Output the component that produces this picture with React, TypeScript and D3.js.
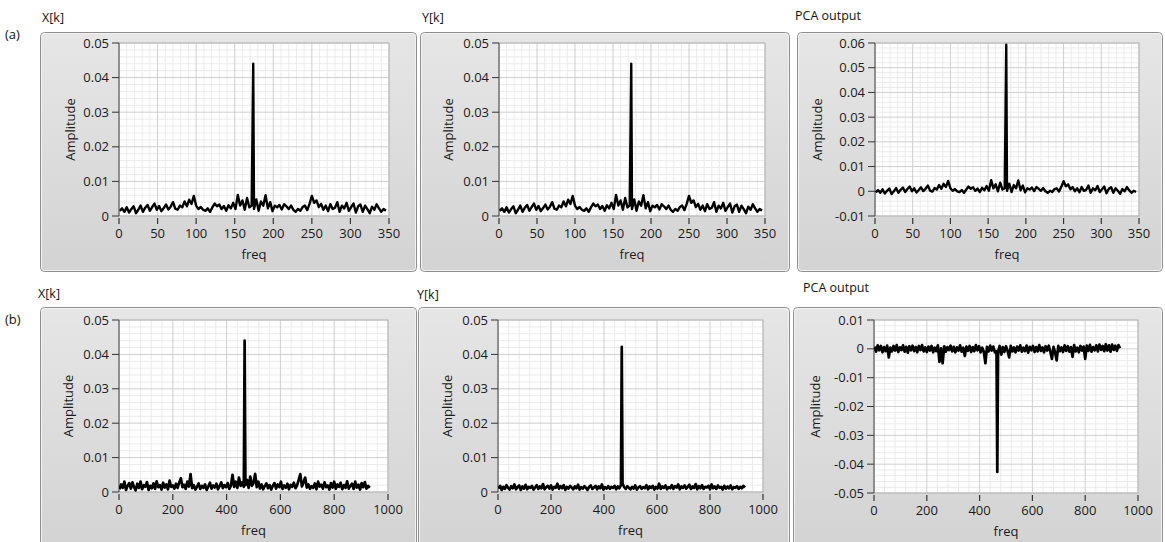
import React from 'react';
import * as d3 from 'd3';

// ---------------- DATA ----------------
// Top row (a): samples at freq = 1 + 3*i
const TOP_FREQ_START = 1;
const TOP_FREQ_STEP = 3;
// Bottom row (b): samples at freq = 2 + 6*i
const BOTTOM_FREQ_START = 2;
const BOTTOM_FREQ_STEP = 6;

const TOP_X_TICKS = [0, 50, 100, 150, 200, 250, 300, 350];
const BOTTOM_X_TICKS = [0, 200, 400, 600, 800, 1000];
const Y_TICKS_POS = [0, 0.01, 0.02, 0.03, 0.04, 0.05];
const Y_TICKS_PCA_TOP = [-0.01, 0, 0.01, 0.02, 0.03, 0.04, 0.05, 0.06];
const Y_TICKS_PCA_BOTTOM = [-0.05, -0.04, -0.03, -0.02, -0.01, 0, 0.01];

const X_TOP_NOISE = [
  0.0015, 0.0022, 0.0012, 0.0025, 0.001, 0.002, 0.0028, 0.0008, 0.0018, 0.003,
  0.0012, 0.0024, 0.0032, 0.0015, 0.0026, 0.0036, 0.0018, 0.0029, 0.0014, 0.0023,
  0.0033, 0.0019, 0.0027, 0.004, 0.0021, 0.0018, 0.003, 0.0025, 0.0042, 0.0028,
  0.0047, 0.0035, 0.0058, 0.003, 0.002, 0.0026, 0.0018, 0.0015, 0.0022, 0.0012,
  0.0025, 0.0036, 0.0028, 0.0033, 0.002, 0.0029, 0.0015, 0.0031, 0.0022, 0.0038,
  0.002, 0.0061, 0.003, 0.0045, 0.0018, 0.0052, 0.0025, 0.003, 0.002, 0.0048,
  0.0015, 0.0042, 0.003, 0.006, 0.0022, 0.004, 0.0014, 0.003, 0.0025, 0.0032,
  0.0019, 0.0034, 0.0028, 0.002, 0.003, 0.0018, 0.0012, 0.002, 0.0015, 0.0026,
  0.003, 0.0017, 0.0035, 0.0058, 0.0038, 0.0045, 0.0026, 0.0035, 0.0018, 0.003,
  0.0014, 0.0034, 0.002, 0.0024, 0.004, 0.0012, 0.003, 0.0022, 0.0038, 0.0015,
  0.0026, 0.0036, 0.001, 0.0028, 0.0033, 0.0012, 0.003, 0.002, 0.0008, 0.0027,
  0.0018, 0.0034, 0.0022, 0.0012, 0.002, 0.0015,
];
// Y[k] in (a) is visually identical to X[k]
const Y_TOP_NOISE = [
  0.0015, 0.0022, 0.0012, 0.0025, 0.001, 0.002, 0.0028, 0.0008, 0.0018, 0.003,
  0.0012, 0.0024, 0.0032, 0.0015, 0.0026, 0.0036, 0.0018, 0.0029, 0.0014, 0.0023,
  0.0033, 0.0019, 0.0027, 0.004, 0.0021, 0.0018, 0.003, 0.0025, 0.0042, 0.0028,
  0.0047, 0.0035, 0.0058, 0.003, 0.002, 0.0026, 0.0018, 0.0015, 0.0022, 0.0012,
  0.0025, 0.0036, 0.0028, 0.0033, 0.002, 0.0029, 0.0015, 0.0031, 0.0022, 0.0038,
  0.002, 0.0061, 0.003, 0.0045, 0.0018, 0.0052, 0.0025, 0.003, 0.002, 0.0048,
  0.0015, 0.0042, 0.003, 0.006, 0.0022, 0.004, 0.0014, 0.003, 0.0025, 0.0032,
  0.0019, 0.0034, 0.0028, 0.002, 0.003, 0.0018, 0.0012, 0.002, 0.0015, 0.0026,
  0.003, 0.0017, 0.0035, 0.0058, 0.0038, 0.0045, 0.0026, 0.0035, 0.0018, 0.003,
  0.0014, 0.0034, 0.002, 0.0024, 0.004, 0.0012, 0.003, 0.0022, 0.0038, 0.0015,
  0.0026, 0.0036, 0.001, 0.0028, 0.0033, 0.0012, 0.003, 0.002, 0.0008, 0.0027,
  0.0018, 0.0034, 0.0022, 0.0012, 0.002, 0.0015,
];
const PCA_TOP_NOISE = [
  -0.0004, 0.0005, -0.0006, 0.0008, -0.0009, 0.0002, 0.0011, -0.0011, 0.0, 0.0013,
  -0.0006, 0.0006, 0.0015, -0.0003, 0.0009, 0.0019, 0.0, 0.0012, -0.0005, 0.0005,
  0.0016, 0.0001, 0.001, 0.0023, 0.0003, -0.0001, 0.0013, 0.0007, 0.0025, 0.001,
  0.003, 0.0017, 0.0042, 0.0012, 0.0002, 0.0009, 0.0, -0.0003, 0.0005, -0.0006,
  0.0007, 0.0019, 0.001, 0.0016, 0.0002, 0.0011, -0.0003, 0.0014, 0.0004, 0.0021,
  0.0002, 0.0045, 0.0012, 0.0028, 0.0, 0.0035, 0.0007, 0.0012, 0.0002, 0.0031,
  -0.0003, 0.0025, 0.0012, 0.0044, 0.0004, 0.0023, -0.0004, 0.0012, 0.0007, 0.0015,
  0.0001, 0.0017, 0.001, 0.0002, 0.0013, 0.0, -0.0006, 0.0002, -0.0003, 0.0009,
  0.0012, -0.0001, 0.0018, 0.0041, 0.002, 0.0028, 0.0008, 0.0017, 0.0, 0.0012,
  -0.0004, 0.0017, 0.0002, 0.0006, 0.0023, -0.0006, 0.0012, 0.0004, 0.0021, -0.0003,
  0.0008, 0.0019, -0.0008, 0.001, 0.0016, -0.0006, 0.0012, 0.0002, -0.001, 0.0009,
  0.0, 0.0017, 0.0004, -0.0006, 0.0002, -0.0003,
];

const X_BOTTOM_NOISE = [
  0.0008, 0.0022, 0.0012, 0.003, 0.0006, 0.0018, 0.0026, 0.001, 0.0028, 0.0014, 0.0005, 0.0024,
  0.0012, 0.003, 0.0008, 0.002, 0.0015, 0.0029, 0.0006, 0.0018, 0.0011, 0.0025, 0.0009, 0.0031,
  0.0014, 0.002, 0.0007, 0.0027, 0.0013, 0.0022, 0.0008, 0.0033, 0.0015, 0.0019, 0.001, 0.0024,
  0.0012, 0.0028, 0.004, 0.0014, 0.0021, 0.0009, 0.003, 0.0016, 0.0052, 0.0011, 0.002, 0.0007,
  0.0015, 0.0025, 0.0009, 0.0018, 0.0012, 0.0022, 0.0006, 0.0016, 0.0027, 0.001, 0.0019, 0.0013,
  0.0024, 0.0008, 0.0017, 0.0028, 0.0011, 0.002, 0.0014, 0.0026, 0.0009, 0.0018, 0.005, 0.0015,
  0.003, 0.0012, 0.0042, 0.0018, 0.0028, 0.0015, 0.002, 0.0035, 0.0012, 0.0045, 0.0018, 0.0026,
  0.0053, 0.0014, 0.003, 0.001, 0.0022, 0.0008, 0.0017, 0.0025, 0.0011, 0.002, 0.0007, 0.0018,
  0.0026, 0.001, 0.0022, 0.0014, 0.003, 0.0009, 0.0019, 0.0012, 0.0024, 0.0008, 0.0021, 0.0015,
  0.0027, 0.0011, 0.0019, 0.0035, 0.0052, 0.0016, 0.0028, 0.0042, 0.0013, 0.0022, 0.0009, 0.0017,
  0.0012, 0.0025, 0.0008, 0.003, 0.0016, 0.0021, 0.001, 0.0028, 0.0014, 0.0019, 0.0007, 0.0026,
  0.0013, 0.003, 0.0009, 0.0022, 0.0015, 0.0027, 0.0008, 0.002, 0.0012, 0.0031, 0.001, 0.0018,
  0.0024, 0.0009, 0.003, 0.0013, 0.0021, 0.0007, 0.0026, 0.0014, 0.0029, 0.001, 0.0018, 0.0012,
];
const Y_BOTTOM_NOISE = [
  0.001, 0.0018, 0.0006, 0.0015, 0.0009, 0.002, 0.0012, 0.0007, 0.0017, 0.0011, 0.0022, 0.0008,
  0.0014, 0.0019, 0.0006, 0.0016, 0.001, 0.0021, 0.0008, 0.0015, 0.0012, 0.0018, 0.0007, 0.0013,
  0.002, 0.0009, 0.0016, 0.0011, 0.0023, 0.0008, 0.0014, 0.0018, 0.001, 0.0019, 0.0007, 0.0015,
  0.0012, 0.0024, 0.0009, 0.0017, 0.0011, 0.002, 0.0006, 0.0015, 0.001, 0.0018, 0.0013, 0.0008,
  0.0016, 0.0011, 0.0021, 0.0007, 0.0014, 0.001, 0.0017, 0.0012, 0.0006, 0.0015, 0.0019, 0.0009,
  0.0013, 0.0018, 0.0008, 0.0016, 0.0011, 0.0022, 0.0007, 0.0014, 0.001, 0.0017, 0.0009, 0.0015,
  0.0012, 0.0018, 0.0008, 0.0016, 0.0011, 0.002, 0.0025, 0.0014, 0.0009, 0.0017, 0.0012, 0.0008,
  0.0015, 0.001, 0.0019, 0.0007, 0.0013, 0.0017, 0.0009, 0.0014, 0.0011, 0.002, 0.0008, 0.0016,
  0.0012, 0.0018, 0.0007, 0.0015, 0.001, 0.0024, 0.0009, 0.0016, 0.0012, 0.0019, 0.0008, 0.0014,
  0.0011, 0.002, 0.0009, 0.0017, 0.0013, 0.0022, 0.0008, 0.0016, 0.0012, 0.0019, 0.001, 0.0015,
  0.0021, 0.0009, 0.0016, 0.0012, 0.0023, 0.0008, 0.0017, 0.0011, 0.002, 0.0009, 0.0015, 0.0013,
  0.0018, 0.0008, 0.0022, 0.0011, 0.0016, 0.0009, 0.0019, 0.0012, 0.0015, 0.0007, 0.0018, 0.001,
  0.0016, 0.0011, 0.0019, 0.0008, 0.0014, 0.0012, 0.0017, 0.0009, 0.0015, 0.0011, 0.0018, 0.0013,
];
const PCA_BOTTOM_NOISE = [
  0.0008, -0.001, 0.0012, -0.0005, 0.001, -0.0012, 0.0006, -0.0008, 0.0011, -0.003, 0.0004, -0.0009,
  0.001, -0.0006, 0.0013, -0.0011, 0.0005, -0.0004, 0.0012, -0.001, 0.0007, -0.0013, 0.0009, -0.0005,
  0.0011, -0.0008, 0.0006, -0.0012, 0.001, -0.0004, 0.0013, -0.0009, 0.0005, -0.0011, 0.0008, -0.0006,
  0.001, -0.0012, 0.0004, -0.0008, 0.0012, -0.0045, 0.0002, -0.005, 0.0009, -0.001, 0.0006, -0.0004,
  0.0011, -0.0009, 0.0007, -0.0012, 0.0005, -0.0006, 0.0012, -0.001, 0.0004, -0.0025, 0.0008, -0.0007,
  0.001, -0.0011, 0.0006, -0.0008, 0.0013, -0.0005, 0.0009, -0.0012, 0.0004, -0.001, -0.005, 0.0007,
  -0.0009, 0.0011, -0.0006, 0.0008, -0.0012, -0.0008, -0.001, 0.001, -0.002, 0.0006, -0.0011, 0.0009,
  -0.0007, -0.003, 0.001, -0.0009, 0.0005, -0.0012, 0.0008, -0.0006, 0.0012, -0.001, 0.0004, -0.0008,
  0.0011, -0.0013, 0.0007, -0.0005, 0.001, -0.0011, 0.0006, -0.0009, 0.0013, -0.0007, 0.0005, -0.0012,
  0.0009, -0.0006, 0.0011, -0.001, -0.0035, 0.0007, -0.0012, -0.004, 0.001, -0.0008, 0.0005, -0.0011,
  0.0012, -0.0007, 0.0009, -0.001, 0.0006, -0.0028, 0.0013, -0.0009, 0.0004, -0.0012, 0.001, -0.0006,
  0.0008, -0.0035, 0.0011, -0.0007, 0.0014, -0.001, 0.0006, -0.0005, 0.0012, -0.0009, 0.0015, -0.0004,
  0.001, -0.0008, 0.0016, -0.0006, 0.0012, -0.001, 0.0015, -0.0004, 0.0011, -0.0007, 0.0013, 0.0002,
];

// Spectral peaks [freq, amplitude]
const X_TOP_PEAK: [number, number] = [174, 0.044];
const Y_TOP_PEAK: [number, number] = [174, 0.044];
const PCA_TOP_PEAK: [number, number] = [174, 0.0593];
const X_BOTTOM_PEAK: [number, number] = [467, 0.044];
const Y_BOTTOM_PEAK: [number, number] = [467, 0.0422];
const PCA_BOTTOM_PEAK: [number, number] = [467, -0.0427];

// ---------------- helpers ----------------
function buildSeries(noise: number[], start: number, step: number, peak: [number, number]) {
  const pts: [number, number][] = noise.map((v, i) => [start + i * step, v]);
  pts.push(peak);
  pts.sort((a, b) => a[0] - b[0]);
  return pts;
}

function fmtTick(v: number) {
  if (Math.abs(v) < 1e-12) return '0';
  return v.toFixed(2);
}

function fmtX(v: number) {
  return String(v);
}

const FONT = "'Open Sans', 'Noto Sans', 'DejaVu Sans', sans-serif";

type PanelCfg = {
  title: string;
  titleX: number;
  titleY: number;
  frame: { x: number; y: number; w: number; h: number };
  plot: { x: number; y: number; w: number; h: number };
  xDomain: [number, number];
  xTicks: number[];
  yDomain: [number, number];
  yTicks: number[];
  ampOffset: number;
  lineWidth: number;
  series: [number, number][];
};

const PANELS: PanelCfg[] = [
  {
    title: 'X[k]', titleX: 42, titleY: 22,
    frame: { x: 40, y: 32, w: 377, h: 240 },
    plot: { x: 119, y: 43, w: 270, h: 173 },
    xDomain: [0, 350], xTicks: TOP_X_TICKS,
    yDomain: [0, 0.05], yTicks: Y_TICKS_POS, ampOffset: 49, lineWidth: 2.4,
    series: buildSeries(X_TOP_NOISE, TOP_FREQ_START, TOP_FREQ_STEP, X_TOP_PEAK),
  },
  {
    title: 'Y[k]', titleX: 422, titleY: 22,
    frame: { x: 420, y: 32, w: 370, h: 240 },
    plot: { x: 499, y: 43, w: 266, h: 173 },
    xDomain: [0, 350], xTicks: TOP_X_TICKS,
    yDomain: [0, 0.05], yTicks: Y_TICKS_POS, ampOffset: 51, lineWidth: 2.4,
    series: buildSeries(Y_TOP_NOISE, TOP_FREQ_START, TOP_FREQ_STEP, Y_TOP_PEAK),
  },
  {
    title: 'PCA output', titleX: 795, titleY: 20,
    frame: { x: 797, y: 32, w: 366, h: 240 },
    plot: { x: 875, y: 43, w: 264, h: 173 },
    xDomain: [0, 350], xTicks: TOP_X_TICKS,
    yDomain: [-0.01, 0.06], yTicks: Y_TICKS_PCA_TOP, ampOffset: 58, lineWidth: 2.4,
    series: buildSeries(PCA_TOP_NOISE, TOP_FREQ_START, TOP_FREQ_STEP, PCA_TOP_PEAK),
  },
  {
    title: 'X[k]', titleX: 38, titleY: 298,
    frame: { x: 40, y: 307, w: 377, h: 240 },
    plot: { x: 119, y: 320, w: 269, h: 172 },
    xDomain: [0, 1000], xTicks: BOTTOM_X_TICKS,
    yDomain: [0, 0.05], yTicks: Y_TICKS_POS, ampOffset: 51, lineWidth: 2.7,
    series: buildSeries(X_BOTTOM_NOISE, BOTTOM_FREQ_START, BOTTOM_FREQ_STEP, X_BOTTOM_PEAK),
  },
  {
    title: 'Y[k]', titleX: 417, titleY: 299,
    frame: { x: 418, y: 307, w: 372, h: 240 },
    plot: { x: 498, y: 320, w: 265, h: 172 },
    xDomain: [0, 1000], xTicks: BOTTOM_X_TICKS,
    yDomain: [0, 0.05], yTicks: Y_TICKS_POS, ampOffset: 51, lineWidth: 2.7,
    series: buildSeries(Y_BOTTOM_NOISE, BOTTOM_FREQ_START, BOTTOM_FREQ_STEP, Y_BOTTOM_PEAK),
  },
  {
    title: 'PCA output', titleX: 803, titleY: 292,
    frame: { x: 793, y: 307, w: 370, h: 240 },
    plot: { x: 874, y: 320, w: 264, h: 173 },
    xDomain: [0, 1000], xTicks: BOTTOM_X_TICKS,
    yDomain: [-0.05, 0.01], yTicks: Y_TICKS_PCA_BOTTOM, ampOffset: 59, lineWidth: 2.7,
    series: buildSeries(PCA_BOTTOM_NOISE, BOTTOM_FREQ_START, BOTTOM_FREQ_STEP, PCA_BOTTOM_PEAK),
  },
];

function minorValues(ticks: number[], parts: number) {
  const out: number[] = [];
  for (let i = 0; i < ticks.length - 1; i++) {
    const a = ticks[i], b = ticks[i + 1];
    for (let k = 1; k < parts; k++) out.push(a + ((b - a) * k) / parts);
  }
  return out;
}

function Panel({ cfg, idx }: { cfg: PanelCfg; idx: number }) {
  const { frame, plot } = cfg;
  const x = d3.scaleLinear().domain(cfg.xDomain).range([plot.x, plot.x + plot.w]);
  const y = d3.scaleLinear().domain(cfg.yDomain).range([plot.y + plot.h, plot.y]);
  const line = d3.line<[number, number]>().x((d) => x(d[0])).y((d) => y(d[1]));
  const xMinor = minorValues(cfg.xTicks, 5);
  const yMinor = minorValues(cfg.yTicks, 5);
  const bottom = plot.y + plot.h;
  const clipId = `clip-${idx}`;
  return (
    <g>
      <text x={cfg.titleX} y={cfg.titleY} fontSize={12.5} fill="#111" fontFamily={FONT}>
        {cfg.title}
      </text>
      <rect x={frame.x + 0.5} y={frame.y + 0.5} width={frame.w - 1} height={frame.h - 1} rx={4} ry={4}
        fill="url(#frameGrad)" stroke="#8e8e8e" strokeWidth={1} />
      <rect x={frame.x + 1.5} y={frame.y + 1.5} width={frame.w - 3} height={frame.h - 3} rx={3} ry={3}
        fill="none" stroke="#f2f2f2" strokeWidth={1} />
      <defs>
        <clipPath id={clipId}>
          <rect x={plot.x} y={plot.y} width={plot.w} height={plot.h} />
        </clipPath>
      </defs>
      <rect x={plot.x} y={plot.y} width={plot.w} height={plot.h} fill="#ffffff" />
      {xMinor.map((v, i) => (
        <line key={`xm${i}`} x1={x(v)} x2={x(v)} y1={plot.y} y2={bottom} stroke="#ebebeb" strokeWidth={1} />
      ))}
      {yMinor.map((v, i) => (
        <line key={`ym${i}`} x1={plot.x} x2={plot.x + plot.w} y1={y(v)} y2={y(v)} stroke="#ebebeb" strokeWidth={1} />
      ))}
      {cfg.xTicks.map((v, i) => (
        <line key={`xg${i}`} x1={x(v)} x2={x(v)} y1={plot.y} y2={bottom} stroke="#cfcfcf" strokeWidth={1} />
      ))}
      {cfg.yTicks.map((v, i) => (
        <line key={`yg${i}`} x1={plot.x} x2={plot.x + plot.w} y1={y(v)} y2={y(v)} stroke="#cfcfcf" strokeWidth={1} />
      ))}
      <rect x={plot.x} y={plot.y} width={plot.w} height={plot.h} fill="none" stroke="#b5b5b5" strokeWidth={1} />
      <line x1={plot.x} x2={plot.x} y1={plot.y} y2={bottom} stroke="#555" strokeWidth={1} />
      <path d={line(cfg.series) || ''} fill="none" stroke="#000" strokeWidth={cfg.lineWidth} strokeLinejoin="round"
        clipPath={`url(#${clipId})`} />
      {cfg.yTicks.map((v, i) => (
        <g key={`yt${i}`}>
          <line x1={plot.x - 7} x2={plot.x} y1={y(v)} y2={y(v)} stroke="#333" strokeWidth={1} />
          <text x={plot.x - 10} y={y(v)} dy="0.35em" textAnchor="end" fontSize={13} fill="#1a1a1a" fontFamily={FONT}>
            {fmtTick(v)}
          </text>
        </g>
      ))}
      {cfg.xTicks.map((v, i) => (
        <g key={`xt${i}`}>
          <line x1={x(v)} x2={x(v)} y1={bottom + 2} y2={bottom + 8} stroke="#333" strokeWidth={1.2} />
          <text x={x(v)} y={bottom + 22} textAnchor="middle" fontSize={13} fill="#1a1a1a" fontFamily={FONT}>
            {fmtX(v)}
          </text>
        </g>
      ))}
      <text x={plot.x + plot.w / 2} y={bottom + 43} textAnchor="middle" fontSize={13} fill="#1a1a1a" fontFamily={FONT}>
        freq
      </text>
      <text transform={`translate(${plot.x - cfg.ampOffset},${plot.y + plot.h / 2}) rotate(-90)`}
        textAnchor="middle" dy="0.35em" fontSize={13} fill="#1a1a1a" fontFamily={FONT}>
        Amplitude
      </text>
    </g>
  );
}

export default function App() {
  return (
    <svg width={1165} height={542} viewBox="0 0 1165 542"
      style={{ position: 'absolute', left: 0, top: 0, display: 'block', background: '#ffffff' }}>
      <defs>
        <linearGradient id="frameGrad" x1="0" y1="0" x2="0" y2="1">
          <stop offset="0%" stopColor="#e6e6e6" />
          <stop offset="100%" stopColor="#d3d3d3" />
        </linearGradient>
      </defs>
      <rect x={0} y={0} width={1165} height={542} fill="#ffffff" />
      <text x={5} y={39} fontSize={13} fill="#111" fontFamily={FONT}>(a)</text>
      <text x={5} y={324} fontSize={13} fill="#111" fontFamily={FONT}>(b)</text>
      {PANELS.map((p, i) => (
        <Panel key={i} cfg={p} idx={i} />
      ))}
    </svg>
  );
}
